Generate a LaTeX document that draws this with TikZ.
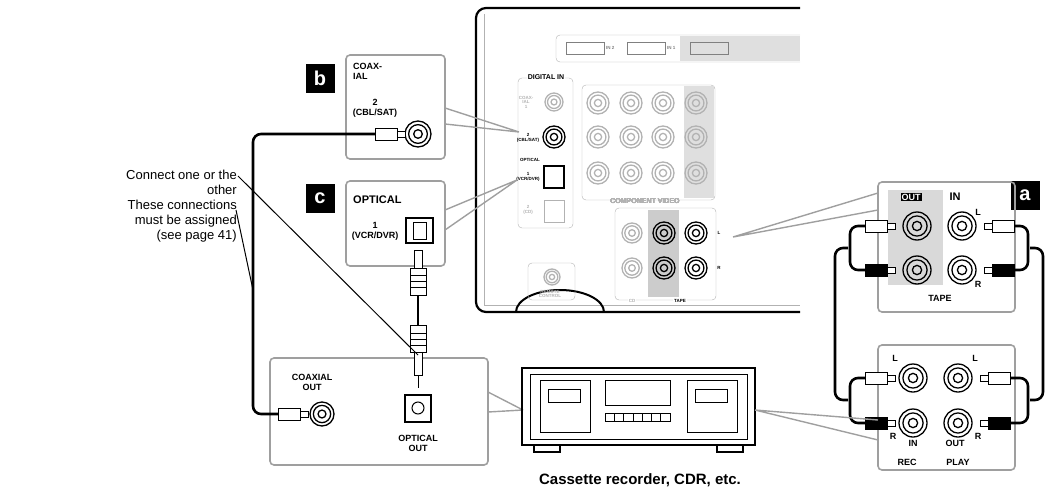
\documentclass[tikz,border=0pt]{standalone}
\usepackage{fontspec}
\setmainfont{Liberation Sans}
\usetikzlibrary{positioning}
\tikzset{%
  panel/.style = {draw=gray!75,line width=1.6pt,rounded corners=4pt},
  tag/.style = {fill=black,text=white,font=\bfseries\fontsize{20}{20}\selectfont,
        minimum width=29pt,minimum height=29pt,inner sep=0pt},
  lbl/.style = {font=\bfseries\fontsize{9}{10}\selectfont,align=center,inner sep=0pt},
  tiny/.style = {font=\bfseries\fontsize{4.5}{4.5}\selectfont,align=center,inner sep=0pt},
  lead/.style = {draw=gray!75,line width=1.4pt},
  cable/.style = {line width=2.6pt,rounded corners=8pt},
  note/.style = {font=\fontsize{13}{15}\selectfont,align=right,anchor=north east,inner sep=0pt}
}
\newcommand\jack[3][black]{% colour, position, radius
  \draw[#1,line width=1.3pt] (#2) circle (#3pt) circle (#3pt*0.72) circle (#3pt*0.33);}
\newcommand\rcaplug[3]{% position, fill, direction (1 right / -1 left)
  \begin{scope}[shift={(#1)},xscale=#3]
    \draw[line width=1pt,fill=#2] (-30,-6) rectangle (-8,6);
    \draw[line width=1pt,fill=white] (-8,-3) rectangle (0,3);
  \end{scope}}
\begin{document}
\begin{tikzpicture}[x=1pt,y=-1pt]
\useasboundingbox (0,0) rectangle (1048,495);

% receiver
\draw[line width=2.2pt,rounded corners=10pt] (800,8) -- (476,8) -- (476,312) -- (800,312);
\draw[gray!60,line width=1pt] (484,14) -- (484,305) -- (800,305);
\draw[line width=2pt] (516,312) arc (180:360:44 and 22);
\draw[gray!60,rounded corners=4pt] (800,35) -- (556,35) -- (556,62) -- (800,62);
\foreach \hx/\hlab in {566/IN 2,627/IN 1}
  {\draw[gray] (\hx,42) rectangle +(38,12); \node[tiny,gray,right] at (\hx+40,48) {\hlab};}
\fill[gray!25] (680,36) rectangle (800,61);
\draw[gray] (690,42) rectangle +(38,12);
% digital in
\draw[gray!60,rounded corners=4pt] (518,78) rectangle (573,228);
\node[tiny,fill=white,inner sep=1pt] (dig) at (546,77) {\fontsize{7}{7}\selectfont DIGITAL IN};
\node[tiny,gray!60] (coax1) at (526,102) {COAX-\\IAL\\1};
\jack[gray!60]{554,102}{9}
\node[tiny] (coax2) at (528,138) {2\\(CBL/SAT)};
\jack{554,137}{11}
\node[tiny,right] (opt) at (520,160) {OPTICAL};
\node[tiny] (opt1) at (528,177) {1\\(VCR/DVR)};
\draw[line width=1.2pt] (544,166) rectangle (564,188);
\node[tiny,gray!60] (opt2) at (528,210) {2\\(CD)};
\draw[gray!60,line width=1pt] (544,200) rectangle (564,222);
% component video
\draw[gray!60,rounded corners=4pt] (582,85) rectangle (715,200);
\fill[gray!25] (684,86) rectangle (714,198);
\foreach \cx in {598,631,663,696}
  \foreach \cy in {103,137,173}
    \jack[gray!60]{\cx,\cy}{11}
\node[tiny,gray!60] (comp) at (645,201) {\fontsize{7}{7}\selectfont COMPONENT VIDEO};
% tape / cd
\draw[gray!60,rounded corners=4pt] (615,208) rectangle (716,300);
\fill[gray!40] (648,210) rectangle (679,297);
\foreach \cy in {233,268}
  {\jack[gray!60]{632,\cy}{10}\jack{664,\cy}{11}\jack{696,\cy}{11}}
\node[tiny,fill=white,inner sep=1pt] (tapelbl) at (680,301) {TAPE};
\node[tiny,gray!60,fill=white,inner sep=1pt] (cdlbl) at (632,301) {CD};
\node[tiny] at (719,233) {L};
\node[tiny] at (719,268) {R};
% remote
\draw[gray!60,rounded corners=4pt] (528,263) rectangle (575,300);
\jack[gray!60]{552,277}{8}
\node[tiny,gray!60] (rem) at (550,294) {REMOTE\\CONTROL};

% callout b
\node[tag] (tagb) at (320,78) {b};
\draw[panel] (346,55) rectangle (445,159);
\node[lbl,anchor=north west,align=left] (bt) at (353,63) {COAX-\\IAL};
\node[lbl] (bn) at (375,108) {2\\(CBL/SAT)};
\jack{418,134}{13}
\draw[lead] (445,108) -- (519,132) (445,124) -- (519,132);
% callout c
\node[tag] (tagc) at (320,198) {c};
\draw[panel] (346,181) rectangle (445,266);
\node[lbl,anchor=west] (ct) at (353,200) {\fontsize{11}{11}\selectfont OPTICAL};
\node[lbl] (cn) at (375,231) {1\\(VCR/DVR)};
\draw[line width=1.3pt] (406,218) rectangle (433,243);
\draw[line width=1pt] (413,222) rectangle (426,239);
\draw[lead] (445,210) -- (517,180) (445,230) -- (517,180);

% callout a
\node[tag] (taga) at (1025,195) {a};
\draw[panel] (878,182) rectangle (1015,312);
\fill[gray!30] (888,190) rectangle (943,285);
\node[lbl,fill=black,text=white,inner sep=1pt] (outa) at (911,197) {OUT};
\node[lbl] (ina) at (955,197) {\fontsize{11}{11}\selectfont IN};
\foreach \cy in {226,270}{\jack{917,\cy}{14}\jack{962,\cy}{14}}
\node[lbl] at (978,212) {L};
\node[lbl] at (978,284) {R};
\node[lbl] (tapea) at (940,298) {TAPE};
\draw[lead] (733,237) -- (878,193) (733,237) -- (878,210);

% recorder panel
\draw[panel] (878,345) rectangle (1015,470);
\foreach \cy in {378,423}{\jack{913,\cy}{14}\jack{958,\cy}{14}}
\node[lbl] at (895,358) {L}; \node[lbl] at (975,358) {L};
\node[lbl] at (893,436) {R}; \node[lbl] at (978,436) {R};
\node[lbl] (recin) at (913,443) {IN};
\node[lbl] (plout) at (955,443) {OUT};
\node[lbl] (rec) at (907,462) {REC};
\node[lbl] (play) at (958,462) {PLAY};

% rca cables on right
\rcaplug{895,226}{white}{1}
\rcaplug{895,270}{black}{1}
\rcaplug{984,226}{white}{-1}
\rcaplug{984,270}{black}{-1}
\rcaplug{895,378}{white}{1}
\rcaplug{895,423}{black}{1}
\rcaplug{980,378}{white}{-1}
\rcaplug{980,423}{black}{-1}
\draw[cable] (865,226) -- (850,226) -- (850,270) -- (865,270);
\draw[cable] (848,248) -- (835,248) -- (835,400) -- (848,400);
\draw[cable] (865,378) -- (850,378) -- (850,423) -- (865,423);
\draw[cable] (1014,226) -- (1028,226) -- (1028,270) -- (1014,270);
\draw[cable] (1030,248) -- (1043,248) -- (1043,400) -- (1030,400);
\draw[cable] (1010,378) -- (1028,378) -- (1028,423) -- (1010,423);

% lower left panel
\draw[panel] (270,358) rectangle (488,465);
\node[lbl] (coaxout) at (312,382) {COAXIAL\\OUT};
\jack{322,414}{12}
\draw[line width=1.3pt] (405,395) rectangle (431,422);
\draw[line width=1pt] (418,408) circle (6pt);
\node[lbl] (optout) at (418,443) {OPTICAL\\OUT};
\draw[lead] (488,392) -- (523,410) (488,412) -- (523,410);

% coax cable
\rcaplug{405,134}{white}{1}
\rcaplug{308,414}{white}{1}
\draw[cable] (375,134) -- (253,134) -- (253,414) -- (278,414);
% optical cable
\draw[line width=1pt,fill=white] (414,250) rectangle (422,268);
\draw[line width=1pt,fill=white] (410,268) rectangle (426,295);
\foreach \sy in {275,281,287} \draw (410,\sy) -- (426,\sy);
\draw[line width=1pt,fill=white] (410,325) rectangle (426,352);
\foreach \sy in {333,339,345} \draw (410,\sy) -- (426,\sy);
\draw[line width=1pt,fill=white] (414,352) rectangle (422,375);
\draw[line width=2.6pt] (418,295) -- (418,325);
\draw[line width=1pt] (418,375) -- (418,388);

% cassette recorder
\draw[line width=1.8pt] (522,368) rectangle (755,445);
\draw[line width=1pt] (530,374) rectangle (747,439);
\draw[line width=1.5pt] (534,445) rectangle (560,452) (717,445) rectangle (743,452);
\draw[line width=1pt] (540,380) rectangle (590,432) (687,380) rectangle (737,432);
\draw[line width=1pt] (548,389) rectangle (580,402) (695,389) rectangle (727,402);
\draw[line width=1pt] (605,380) rectangle (670,405);
\foreach \k in {0,...,6} \draw[line width=0.8pt] (605+\k*9.3,413) rectangle +(9.3,8);
\node[lbl] (cass) at (640,480) {\fontsize{15}{15}\selectfont Cassette recorder, CDR, etc.};
\draw[lead] (755,410) -- (878,420) (755,410) -- (878,440);

% note on the left
\node[note] (note) at (237,170) {Connect one or the\\other\\These connections\\must be assigned\\(see page 41)};
\draw[line width=1pt] (238,176) -- (418,355);
\draw[line width=1pt] (236,210) -- (253,290);
\end{tikzpicture}
\end{document}
